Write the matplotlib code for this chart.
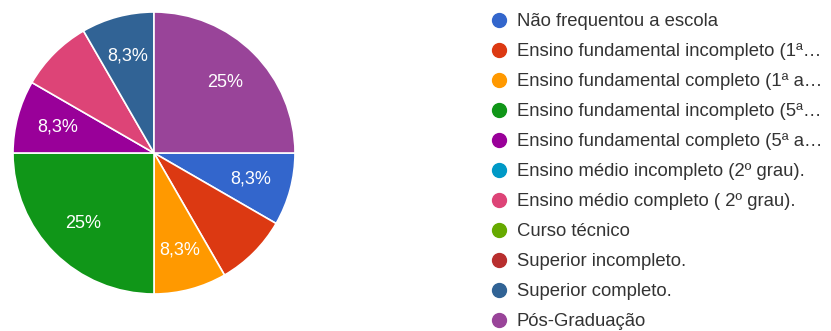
import matplotlib
matplotlib.use("Agg")
import matplotlib.pyplot as plt
from matplotlib.lines import Line2D
import numpy as np

plt.rcParams['font.family'] = ['Liberation Sans', 'DejaVu Sans']

# respostas (12 no total)
categorias = [
    'Não frequentou a escola',
    'Ensino fundamental incompleto (1ª…',
    'Ensino fundamental completo (1ª a…',
    'Ensino fundamental incompleto (5ª…',
    'Ensino fundamental completo (5ª a…',
    'Ensino médio incompleto (2º grau).',
    'Ensino médio completo ( 2º grau).',
    'Curso técnico',
    'Superior incompleto.',
    'Superior completo.',
    'Pós-Graduação',
]
contagens = [1, 1, 1, 3, 1, 0, 1, 0, 0, 1, 3]
# rótulos que aparecem no gráfico original (vermelho e rosa ficaram sem)
rotulos = ['8,3%', '', '8,3%', '25%', '8,3%', '', '', '', '', '8,3%', '25%']

cores = ['#3366cc', '#dc3912', '#ff9900', '#109618', '#990099', '#0099c6',
         '#dd4477', '#66aa00', '#b82e2e', '#316395', '#994499']

fig = plt.figure(figsize=(8.31, 3.31), dpi=100)
W, H = 831, 331

# pizza: centro (154,153) px, raio 141 px
cx, cy, r = 154, 153, 141
ax = fig.add_axes([(cx - r) / W, (H - cy - r) / H, 2 * r / W, 2 * r / H])

# fatias com valor zero não entram no desenho
idx = [i for i, v in enumerate(contagens) if v > 0]
wedges, _ = ax.pie([contagens[i] for i in idx], colors=[cores[i] for i in idx],
                   startangle=0, counterclock=False,
                   wedgeprops=dict(edgecolor='white', linewidth=1.2))
ax.set_xlim(-1, 1)
ax.set_ylim(-1, 1)
ax.set_aspect('equal')

# rótulos de porcentagem dentro das fatias
for w, i in zip(wedges, idx):
    if not rotulos[i]:
        continue
    ang = np.deg2rad((w.theta1 + w.theta2) / 2)
    ax.text(0.71 * np.cos(ang), 0.71 * np.sin(ang), rotulos[i],
            ha='center', va='center', color='white', fontsize=13)

handles = [Line2D([], [], marker='o', linestyle='none', markersize=10,
                  markerfacecolor=c, markeredgecolor=c) for c in cores]
leg = fig.legend(handles, categorias, loc='upper left',
                 bbox_to_anchor=(490 / W, 1 - 13 / H), frameon=False,
                 fontsize=13.3, labelspacing=0.705, handletextpad=0.45,
                 handlelength=1.0, borderpad=0, borderaxespad=0)
for t in leg.get_texts():
    t.set_color('#333333')

fig.savefig('out.png', dpi=100)
